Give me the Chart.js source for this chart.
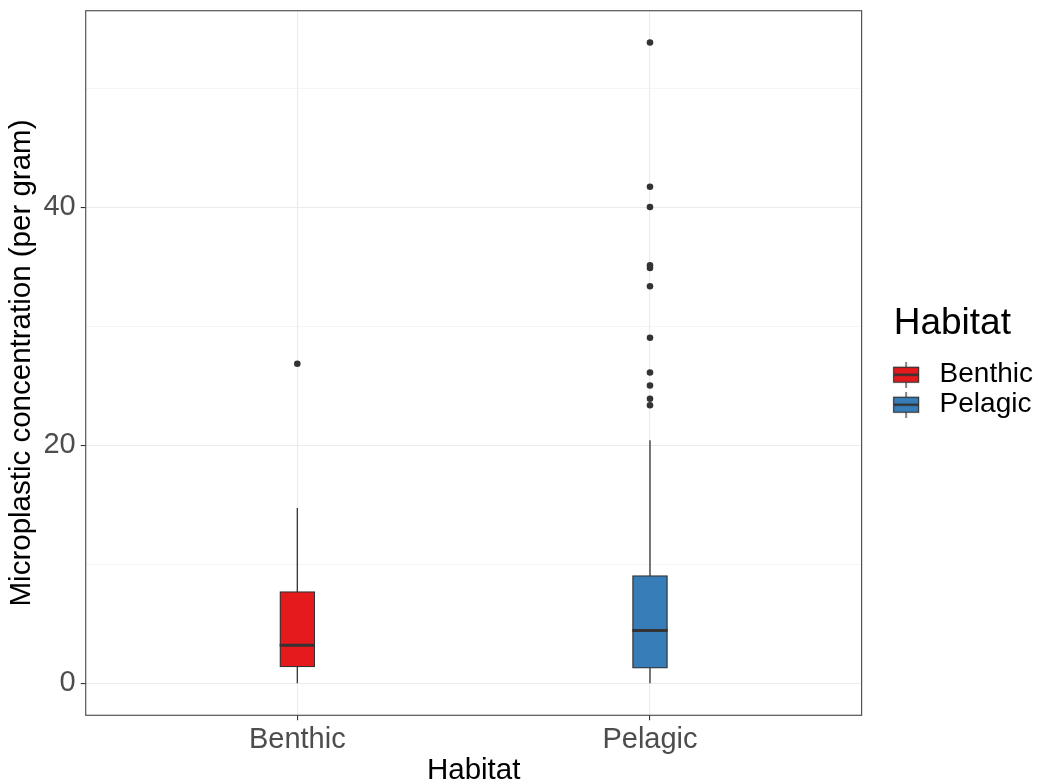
<!DOCTYPE html>
<html>
<head>
<meta charset="utf-8">
<script src="https://cdn.jsdelivr.net/npm/chart.js@4"></script>
<style>
  html, body { margin: 0; padding: 0; background: #fff; }
  #wrap { width: 1043px; height: 782px; }
</style>
</head>
<body>
<div id="wrap"><canvas id="myChart" width="1043" height="782"></canvas></div>
<script>
'use strict';
// habitat groups
let habitats = ['Benthic', 'Pelagic'];
let boxColors = ['#E41A1C', '#377EB8'];
// box stats (per gram)
let lowWhisker = [0, 0];
let q1 = [1.37, 1.26];
let median = [3.2, 4.43];
let q3 = [7.71, 9.06];
let highWhisker = [14.73, 20.42];
// outliers
let benthicOut = [26.85];
let pelagicOut = [53.85, 41.72, 40.03, 35.13, 34.9, 33.36, 29.04, 26.12, 25.03, 23.91, 23.37];
let yTicks = [0, 10, 20, 30, 40, 50];

let fontFam = "'Liberation Sans', Arial, sans-serif";
let dark = '#333333';

// little boxplot icon for legend keys (drawn toward the right of a wider canvas)
function makeKey(color) {
    let c = document.createElement('canvas');
    c.width = 51;
    c.height = 26;
    let g = c.getContext('2d');
    let ox = 24;
    g.strokeStyle = dark;
    g.lineWidth = 1.2;
    g.beginPath();
    g.moveTo(ox + 13, 0);
    g.lineTo(ox + 13, 26);
    g.stroke();
    g.fillStyle = color;
    g.fillRect(ox + 0.5, 5.5, 25, 15);
    g.strokeRect(ox + 0.5, 5.5, 25, 15);
    g.lineWidth = 2.4;
    g.beginPath();
    g.moveTo(ox + 0.5, 13);
    g.lineTo(ox + 25.5, 13);
    g.stroke();
    return c;
}

let datasets = [];
// boxes (floating bars)
for (let i = 0; i < habitats.length; i++) {
    datasets.push({
        type: 'bar',
        label: habitats[i],
        data: [{x: i + 1, y: [q1[i], q3[i]]}],
        backgroundColor: boxColors[i],
        borderColor: dark,
        borderWidth: 1.3,
        borderSkipped: false,
        barThickness: 35,
        grouped: false,
        order: 1
    });
}
// whiskers
for (let i = 0; i < habitats.length; i++) {
    datasets.push({
        type: 'line',
        label: habitats[i] + ' whisker',
        data: [{x: i + 1, y: lowWhisker[i]}, {x: i + 1, y: highWhisker[i]}],
        borderColor: dark,
        borderWidth: 1.3,
        pointRadius: 0,
        order: 3
    });
}
// medians
for (let i = 0; i < habitats.length; i++) {
    datasets.push({
        type: 'line',
        label: habitats[i] + ' median',
        data: [{x: i + 1 - 0.05, y: median[i]}, {x: i + 1 + 0.05, y: median[i]}],
        borderColor: dark,
        borderWidth: 3,
        pointRadius: 0,
        order: 0
    });
}
// outliers
datasets.push({
    type: 'scatter',
    label: 'outliers',
    data: benthicOut.map(v => ({x: 1, y: v})).concat(pelagicOut.map(v => ({x: 2, y: v}))),
    backgroundColor: dark,
    borderColor: dark,
    borderWidth: 0,
    pointRadius: 3.3,
    order: 0
});

// panel border on all four sides
let panelBorder = {
    id: 'panelBorder',
    afterDraw(chart) {
        let a = chart.chartArea;
        let ctx = chart.ctx;
        ctx.save();
        ctx.strokeStyle = '#555555';
        ctx.lineWidth = 1.2;
        ctx.strokeRect(a.left, a.top, a.right - a.left, a.bottom - a.top);
        ctx.restore();
    }
};

let ctx = document.getElementById('myChart').getContext('2d');
let myChart = new Chart(ctx, {
    type: 'bar',
    data: {datasets: datasets},
    plugins: [panelBorder],
    options: {
        responsive: false,
        animation: false,
        layout: {padding: {top: 10.7, left: 0, right: 0, bottom: 0}},
        plugins: {
            tooltip: {enabled: false},
            legend: {
                position: 'right',
                fullSize: false,
                align: 'center',
                title: {
                    display: true,
                    text: 'Habitat',
                    position: 'center',
                    color: '#000',
                    font: {family: fontFam, size: 37},
                    padding: {top: 0, bottom: 9}
                },
                labels: {
                    usePointStyle: true,
                    pointStyleWidth: 62,
                    padding: 2,
                    color: '#000',
                    font: {family: fontFam, size: 28},
                    generateLabels: () => habitats.map((h, i) => ({
                        text: h,
                        pointStyle: makeKey(boxColors[i]),
                        fontColor: '#000',
                        fillStyle: boxColors[i],
                        strokeStyle: dark,
                        lineWidth: 0,
                        hidden: false,
                        datasetIndex: i
                    }))
                }
            }
        },
        scales: {
            x: {
                type: 'linear',
                min: 0.4,
                max: 2.6,
                offset: false,
                afterBuildTicks: s => { s.ticks = [{value: 1}, {value: 2}]; },
                afterFit: s => { s.height = 66.7; s.paddingLeft = 0; s.paddingRight = 0; },
                ticks: {
                    color: '#4d4d4d',
                    font: {family: fontFam, size: 29},
                    padding: 2,
                    maxRotation: 0,
                    autoSkip: false,
                    callback: v => habitats[v - 1]
                },
                grid: {
                    offset: false,
                    color: '#ebebeb',
                    lineWidth: 1.1,
                    tickColor: dark,
                    tickLength: 5
                },
                border: {display: false},
                title: {
                    display: true,
                    text: 'Habitat',
                    color: '#000',
                    font: {family: fontFam, size: 29.5},
                    padding: {top: 0, bottom: -6.5}
                }
            },
            y: {
                type: 'linear',
                min: -2.69,
                max: 56.52,
                afterBuildTicks: s => { s.ticks = yTicks.map(v => ({value: v})); },
                afterFit: s => { s.width = 85.7; s.paddingTop = 0; s.paddingBottom = 0; },
                ticks: {
                    color: '#4d4d4d',
                    font: {family: fontFam, size: 29},
                    padding: 5,
                    autoSkip: false,
                    callback: v => (v % 20 === 0 ? v : '')
                },
                grid: {
                    color: c => (c.tick && c.tick.value % 20 === 0 ? '#ebebeb' : '#f3f3f3'),
                    lineWidth: c => (c.tick && c.tick.value % 20 === 0 ? 1.1 : 0.8),
                    tickColor: c => (c.tick && c.tick.value % 20 === 0 ? dark : 'rgba(0,0,0,0)'),
                    tickLength: 5
                },
                border: {display: false},
                title: {
                    display: true,
                    text: 'Microplastic concentration (per gram)',
                    color: '#000',
                    font: {family: fontFam, size: 29.5},
                    padding: {top: 4, bottom: 0}
                }
            }
        }
    }
});
</script>
</body>
</html>
